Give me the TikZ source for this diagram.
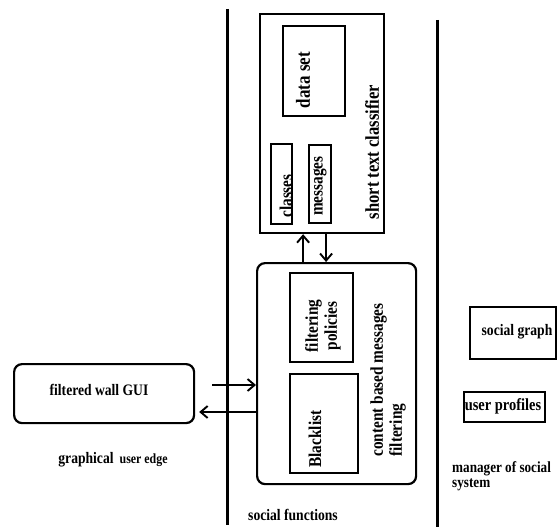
\documentclass[tikz,border=0pt]{standalone}
\usepackage{fontspec}
\setmainfont{Liberation Serif}[FakeStretch=0.85]
\usetikzlibrary{positioning}
\usetikzlibrary{arrows.meta}

\tikzset{
  box/.style={draw, line width=2.2pt, inner sep=0pt, anchor=north west},
  rbox/.style={box, rounded corners=8pt},
  lbl/.style={font=\bfseries\fontsize{18}{19}\selectfont, inner sep=0pt},
  slbl/.style={font=\bfseries\fontsize{16}{17}\selectfont, inner sep=0pt},
  vlbl/.style={lbl, rotate=90},
  sep/.style={line width=3pt},
  flow/.style={line width=1.9pt, -{Straight Barb[length=7pt,width=12pt,line width=1.9pt]}}
}

\begin{document}
\begin{tikzpicture}[x=1pt, y=1pt]
    \useasboundingbox (0,0) rectangle (557,-527);

    % Separators
    \draw[sep] (227,-9) -- (227,-525);
    \draw[sep] (437,-20) -- (437,-527);

    % Short text classifier
    \node[box, minimum width=124, minimum height=219] (classifier) at (259,-13) {};
    \node[box, minimum width=62, minimum height=90] (dataset) at (282,-25) {};
    \node[box, minimum width=21, minimum height=80] (classes) at (270,-143) {};
    \node[box, minimum width=22, minimum height=78] (messages) at (308,-144) {};
    \node[vlbl, font=\bfseries\fontsize{20}{21}\selectfont] (datasettext) at (303,-80) {data set};
    \node[vlbl] (classestext) at (286,-196) {classes};
    \node[vlbl] (messagestext) at (320,-186) {messages};
    \node[vlbl, font=\bfseries\fontsize{19.5}{21}\selectfont] (classifiertext) at (372,-152) {short text classifier};

    % Content based filtering
    \node[rbox, minimum width=159, minimum height=221] (content) at (256,-262) {};
    \node[box, minimum width=63, minimum height=89] (policies) at (289,-272) {};
    \node[box, minimum width=68, minimum height=99] (blacklist) at (289,-373) {};
    \node[vlbl, align=center] (policiestext) at (323,-326) {filtering\\policies};
    \node[vlbl] (blacklisttext) at (315,-439) {Blacklist};
    \node[vlbl, align=left] (contenttext) at (388,-380) {content based messages\\filtering};
    \node[slbl] (functionstext) at (293,-515) {social functions};

    % GUI
    \node[rbox, minimum width=180, minimum height=59] (gui) at (13,-363) {};
    \node[slbl] (guitext) at (99,-390) {filtered wall GUI};
    \node[slbl] (edgetext) at (113,-460) {graphical\, {\fontsize{14}{15}\selectfont user edge}};

    % Manager of social system
    \node[box, minimum width=86, minimum height=52] (graph) at (469,-306) {};
    \node[box, minimum width=81, minimum height=30] (profiles) at (463,-391) {};
    \node[slbl] (graphtext) at (517,-332) {social graph};
    \node[lbl, font=\bfseries\fontsize{17}{18}\selectfont] (profilestext) at (503,-406) {user profiles};
    \node[slbl, align=left, anchor=north west, font=\bfseries\fontsize{15.5}{15}\selectfont] (managertext) at (452,-461) {manager of social\\system};

    % Arrows
    \coordinate (guiout) at (212,-385);
    \coordinate (guiin) at (256,-412);
    \draw[flow] (guiout) -- (guiout -| content.west);
    \draw[flow, shorten >=4pt] (guiin -| content.west) -- (guiin -| gui.east);
    \draw[flow] ([xshift=-19pt]classifier.south |- content.north) -- ([xshift=-19pt]classifier.south);
    \draw[flow] ([xshift=4pt]classifier.south) -- ([xshift=4pt]classifier.south |- content.north);

\end{tikzpicture}
\end{document}
